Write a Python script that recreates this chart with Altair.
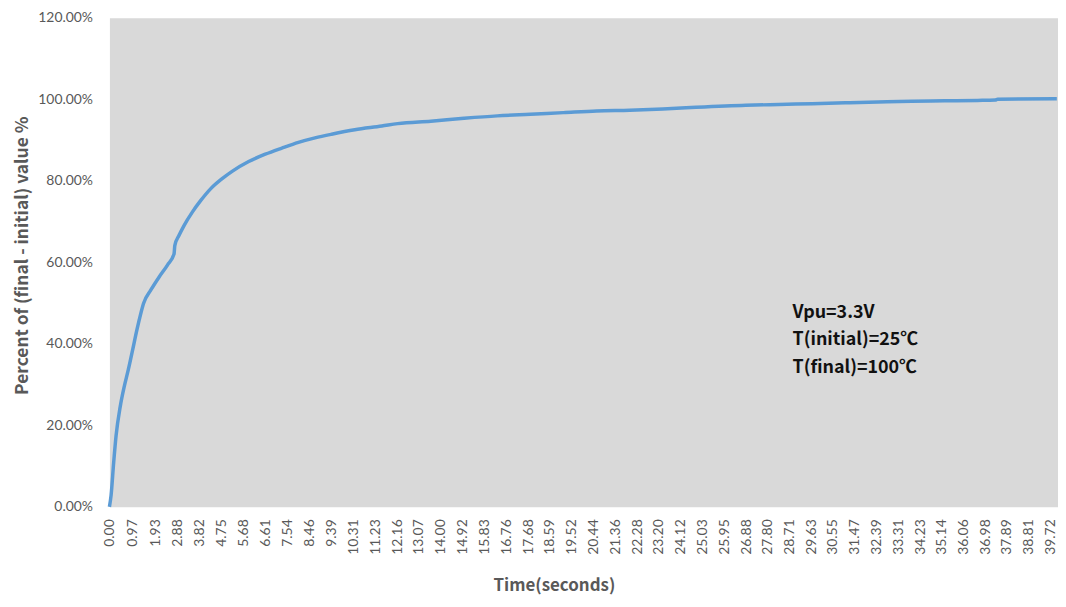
import altair as alt
import pandas as pd

# time (s) and percent of (final - initial) value
time_s = [0.00, 0.07, 0.18, 0.28, 0.46, 0.63, 0.80, 0.98, 1.16, 1.26, 1.44, 1.75,
          2.10, 2.45, 2.73, 2.76, 2.94, 3.15, 3.50, 3.85, 4.27, 4.76, 5.18, 5.88,
          6.58, 7.28, 7.98, 8.68, 9.38, 10.36, 11.50, 12.17, 13.57, 14.97, 16.37,
          17.77, 19.17, 20.57, 21.97, 23.37, 24.77, 26.87, 28.27, 29.67, 31.07,
          32.46, 33.87, 35.26, 36.66, 37.40, 37.50, 40.00]
percent = [0.0, 2.8, 10.9, 17.4, 24.7, 29.6, 33.7, 38.5, 43.4, 45.9, 49.9, 53.2,
           56.4, 59.3, 62.1, 64.1, 66.6, 69.0, 72.3, 75.1, 78.0, 80.5, 82.3, 84.7,
           86.5, 88.0, 89.4, 90.5, 91.4, 92.5, 93.4, 94.0, 94.6, 95.3, 95.9,
           96.3, 96.7, 97.1, 97.3, 97.6, 98.0, 98.5, 98.7, 98.9, 99.1,
           99.3, 99.5, 99.6, 99.7, 99.8, 100.0, 100.1]

x_tick_labels = [0.00, 0.97, 1.93, 2.88, 3.82, 4.75, 5.68, 6.61, 7.54, 8.46, 9.39,
                 10.31, 11.23, 12.16, 13.07, 14.00, 14.92, 15.83, 16.76, 17.68,
                 18.59, 19.52, 20.44, 21.36, 22.28, 23.20, 24.12, 25.03, 25.95,
                 26.88, 27.80, 28.71, 29.63, 30.55, 31.47, 32.39, 33.31, 34.23,
                 35.14, 36.06, 36.98, 37.89, 38.81, 39.72]
y_tick_values = [0.0, 0.2, 0.4, 0.6, 0.8, 1.0, 1.2]

annotation_lines = ["Vpu=3.3V", "T(initial)=25℃", "T(final)=100℃"]

df = pd.DataFrame({"t": time_s, "p": [v / 100 for v in percent]})
ann = pd.DataFrame({"txt": ["\n".join(annotation_lines)]})

FONT = "Lato"
BFONT = "Noto Sans CJK SC"
GREY = "#595959"

line = alt.Chart(df).mark_line(color="#5B9BD5", strokeWidth=3.5, interpolate="monotone").encode(
    x=alt.X(
        "t:Q",
        scale=alt.Scale(domain=[0, 40.05], nice=False, zero=False),
        axis=alt.Axis(
            values=x_tick_labels, format=".2f", labelAngle=-90,
            labelFont=FONT, labelFontSize=14, labelColor=GREY,
            labelPadding=12, ticks=False, domain=False, grid=False,
            labelOverlap=False, labelFlush=False, labelBound=False,
            title="Time(seconds)", titleFont=BFONT, titleFontSize=17,
            titleFontWeight="bold", titleColor=GREY,
            titleX=447, titleY=79, titleAlign="center", titleBaseline="middle",
        ),
    ),
    y=alt.Y(
        "p:Q",
        scale=alt.Scale(domain=[0, 1.2], nice=False),
        axis=alt.Axis(
            values=y_tick_values, format=".2%",
            labelFont=FONT, labelFontSize=14, labelColor=GREY,
            labelPadding=17, ticks=False, domain=False, grid=False,
            labelOverlap=False, labelFlush=False, labelBound=False,
            title="Percent of (final - initial) value   %", titleFont=BFONT,
            titleFontSize=17.5, titleFontWeight="bold", titleColor=GREY,
            titleX=-87, titleY=239, titleAngle=-90, titleAlign="center",
            titleBaseline="middle",
        ),
    ),
)

text = alt.Chart(ann).mark_text(
    align="left", baseline="alphabetic", lineBreak="\n", lineHeight=27.5,
    font=BFONT, fontSize=18, fontWeight="bold", color="#111111",
).encode(
    x=alt.value(687),
    y=alt.value(302),
    text="txt:N",
)

chart = alt.layer(line, text).properties(
    width=954,
    height=492,
    autosize=alt.AutoSizeParams(type="none"),
    padding={"left": 102, "top": 8, "right": 0, "bottom": 91},
    background="white",
).configure_view(fill="#D9D9D9", stroke="transparent")

chart.save("out.html", embed_options={"renderer": "svg", "actions": False})
